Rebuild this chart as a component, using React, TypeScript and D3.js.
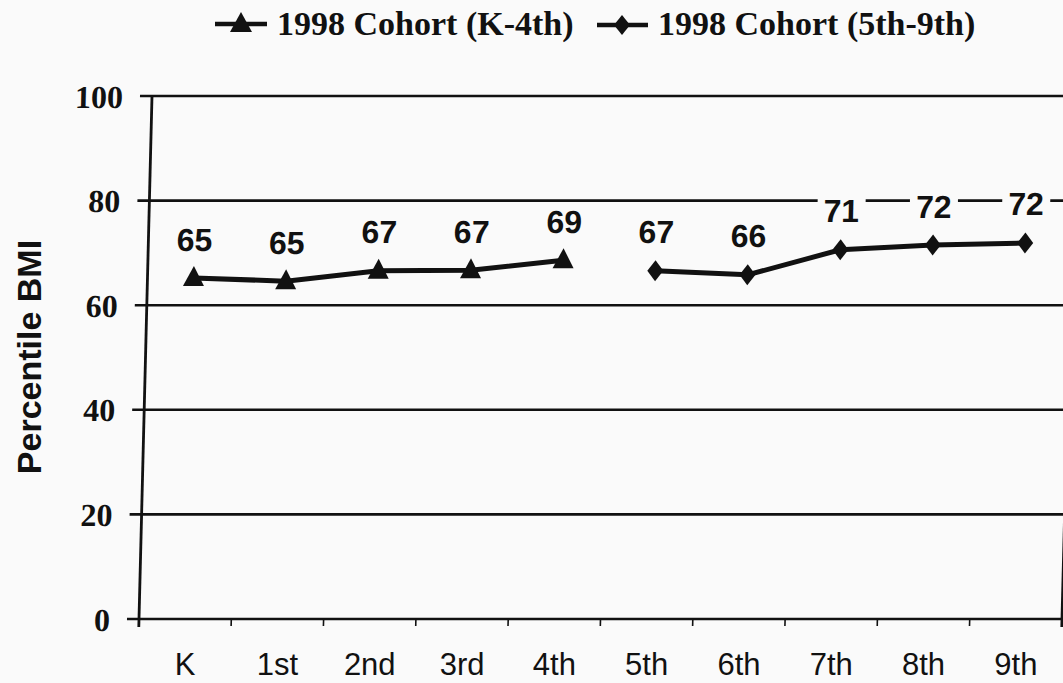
import React from "react";
import * as d3 from "d3";

const categories = ["K", "1st", "2nd", "3rd", "4th", "5th", "6th", "7th", "8th", "9th"];
const cohortKto4 = [65.2, 64.6, 66.6, 66.7, 68.6];
const cohort5to9 = [66.6, 65.8, 70.6, 71.5, 71.9];
const yTicks = [0, 20, 40, 60, 80, 100];
const seriesNames = ["1998 Cohort (K-4th)", "1998 Cohort (5th-9th)"];
const yAxisTitle = "Percentile BMI";

const W = 1063;
const H = 683;
const left = 139;
const right = 1062;
const top = 96;
const bottom = 619;

export default function App() {
  const x = d3.scaleBand<string>().domain(categories).range([left, right]).padding(0);
  const y = d3.scaleLinear().domain([0, 100]).range([bottom, top]);
  const cx = (c: string) => (x(c) as number) + x.bandwidth() / 2;

  const ptsA = cohortKto4.map((v, i) => ({ c: categories[i], v }));
  const ptsB = cohort5to9.map((v, i) => ({ c: categories[i + 5], v }));

  const line = d3
    .line<{ c: string; v: number }>()
    .x((d) => cx(d.c))
    .y((d) => y(d.v));

  const tri = (px: number, py: number, hw: number, up: number, down: number) =>
    `M${px},${py - up}L${px + hw},${py + down}L${px - hw},${py + down}Z`;
  const dia = (px: number, py: number, hw: number, hh: number) =>
    `M${px},${py - hh}L${px + hw},${py}L${px},${py + hh}L${px - hw},${py}Z`;

  const fmt = d3.format(".0f");
  const skewDeg = (Math.atan(-13 / (bottom - top)) * 180) / Math.PI;

  const labelFont = "'Liberation Sans', Arial, sans-serif";
  const serif = "'Liberation Serif', 'Times New Roman', serif";
  const bg = "#fafafa";

  const dataLabel = (d: { c: string; v: number }, key: string) => {
    const px = cx(d.c);
    const py = y(d.v) - 39;
    const w = 48;
    const h = 34;
    return (
      <g key={key}>
        <rect x={px - w / 2} y={py - h / 2} width={w} height={h} fill={bg} />
        <text
          x={px}
          y={py}
          dy="0.36em"
          textAnchor="middle"
          fontFamily={labelFont}
          fontWeight="bold"
          fontSize={32}
          fill="#111"
        >
          {fmt(d.v)}
        </text>
      </g>
    );
  };

  return (
    <svg
      width={W}
      height={H}
      style={{ position: "absolute", left: 0, top: 0, background: bg }}
    >
      <rect x={0} y={0} width={W} height={H} fill={bg} />
      {/* Legend */}
      <g>
        <line x1={215} x2={267} y1={24} y2={24} stroke="#111" strokeWidth={4.5} />
        <path d={tri(241, 24, 11, 12, 8)} fill="#111" />
        <text x={277} y={35} fontFamily={serif} fontWeight="bold" fontSize={34} fill="#111">
          {seriesNames[0]}
        </text>
        <line x1={597} x2={648} y1={25} y2={25} stroke="#111" strokeWidth={4.5} />
        <path d={dia(622, 25, 8, 10)} fill="#111" />
        <text x={658} y={35} fontFamily={serif} fontWeight="bold" fontSize={34} fill="#111">
          {seriesNames[1]}
        </text>
      </g>

      {/* Y axis title */}
      <text
        transform={`translate(41,357) rotate(-90)`}
        textAnchor="middle"
        fontFamily={labelFont}
        fontWeight="bold"
        fontSize={34}
        fill="#111"
      >
        {yAxisTitle}
      </text>

      {/* X labels */}
      {categories.map((c) => (
        <text
          key={c}
          x={cx(c)}
          y={675}
          textAnchor="middle"
          fontFamily={labelFont}
          fontSize={31}
          fill="#111"
        >
          {c}
        </text>
      ))}

      <g transform={`translate(0,${bottom}) skewX(${skewDeg}) translate(0,${-bottom})`}>
        {/* gridlines + y ticks */}
        {yTicks.map((t) => (
          <g key={t}>
            <line x1={left - 12} x2={right} y1={y(t)} y2={y(t)} stroke="#111" strokeWidth={2.6} />
            <text
              x={left - 29}
              y={y(t)}
              dy="0.36em"
              textAnchor="end"
              fontFamily={serif}
              fontWeight="bold"
              fontSize={32}
              fill="#111"
            >
              {t}
            </text>
          </g>
        ))}
        {/* axes */}
        <line x1={left} x2={left} y1={top} y2={bottom + 8} stroke="#111" strokeWidth={2.8} />
        <line x1={right} x2={right} y1={top} y2={bottom + 8} stroke="#111" strokeWidth={2.8} />
        {categories.slice(1).map((c) => (
          <line
            key={c}
            x1={x(c) as number}
            x2={x(c) as number}
            y1={bottom}
            y2={bottom + 7}
            stroke="#111"
            strokeWidth={1.6}
          />
        ))}

        {/* series lines */}
        <path d={line(ptsA) || ""} fill="none" stroke="#111" strokeWidth={5} strokeLinejoin="round" />
        <path d={line(ptsB) || ""} fill="none" stroke="#111" strokeWidth={5} strokeLinejoin="round" />
        {ptsA.map((d) => (
          <path key={d.c} d={tri(cx(d.c), y(d.v), 10.5, 12, 8)} fill="#111" />
        ))}
        {ptsB.map((d) => (
          <path key={d.c} d={dia(cx(d.c), y(d.v), 8, 10.5)} fill="#111" />
        ))}

        {/* data labels */}
        {ptsA.map((d) => dataLabel(d, "a" + d.c))}
        {ptsB.map((d) => dataLabel(d, "b" + d.c))}
      </g>
    </svg>
  );
}
